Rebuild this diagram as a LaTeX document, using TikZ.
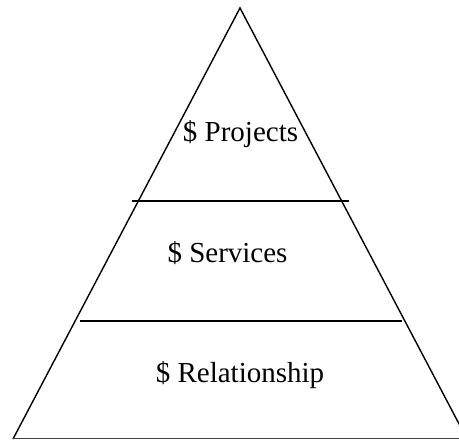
\documentclass[tikz,border=0pt]{standalone}
\usepackage{fontspec}
\setmainfont{Liberation Serif}
\usepackage{tikz}

\begin{document}
\begin{tikzpicture}[x=1pt,y=1pt]
  \useasboundingbox (0,0) rectangle (459,441);
  \clip (0,0) rectangle (459,441);
  \tikzset{tier/.style={anchor=base,inner sep=0pt,font=\fontsize{29}{35}\selectfont},
    edge/.style={line width=1.4pt}}
  % outline of the pyramid
  \coordinate (apex) at (240,433);
  \coordinate (bl) at (13,2);
  \coordinate (br) at (467,2);
  \draw[edge] (bl) -- (apex) -- (br);
  \draw[line width=1pt,black!75] (bl) -- (br);

  % dividing lines
  \coordinate (l1a) at (132,240);
  \coordinate (l1b) at (349,240);
  \coordinate (l2a) at (80,120);
  \coordinate (l2b) at (402,120);
  \draw[edge] (l1a) -- (l1b);
  \draw[edge] (l2a) -- (l2b);

  \node[tier] (projects) at (240.5,299.3) {\$ Projects};
  \node[tier] (services) at (227.5,178.3) {\$ Services};
  \node[tier] (relation) at (240,58.3) {\$ Relationship};
\end{tikzpicture}
\end{document}
